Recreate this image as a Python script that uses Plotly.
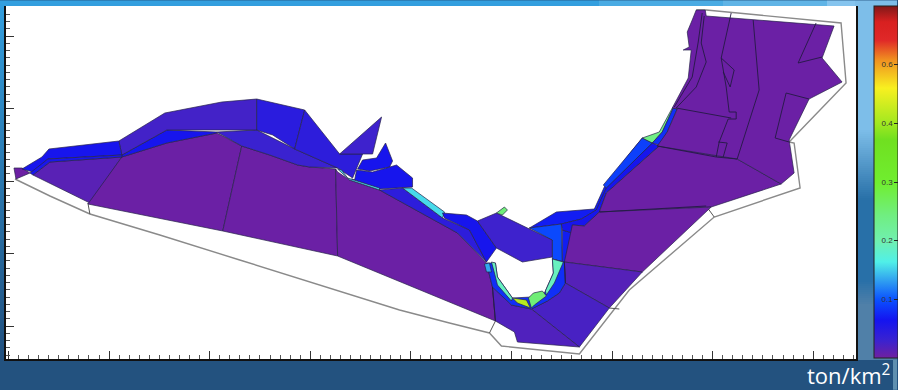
import numpy as np
import plotly.graph_objects as go
from plotly.colors import sample_colorscale

W, H = 898, 390
L, R, T, B = 6, 857, 6, 359

# colour bar: evenly spaced labels as printed in the source picture
bar_tickvals = [1, 2, 3, 4, 5]
bar_ticktext = ["0.1", "0.2", "0.3", "0.4", "0.6"]
bar_max = 6
bar_scale = [
    [0.00, "#7020a0"], [0.05, "#3a22d0"], [0.108, "#1414f0"], [0.165, "#0a50ff"],
    [0.22, "#30a0f0"], [0.273, "#50f0e8"], [0.332, "#70f0b0"], [0.406, "#70ee80"],
    [0.497, "#70ee30"], [0.62, "#70e020"], [0.665, "#a0e820"], [0.767, "#f8f020"],
    [0.847, "#f09020"], [0.903, "#e02828"], [0.955, "#d82020"], [1.00, "#801818"],
]

# cells: outlines
tip = [(14,168),(22,168),(30,173),(16,179)]
cell_a = [(33,175),(50,162),(122,157),(90,203)]
cell_b = [(122,157),(167,143),(217,133),(242,146),(223,231),(88,204)]
cell_c = [(242,146),(270,155),(298,165),(310,167),(336,169),(338,256),(223,231)]
cell_d = [(338,172),(350,180),(380,190),(458,233),(487,263),(493,287),(496,321),(338,256),(336,169)]
cell_e = [(217,132),(257,130),(295,149),(338,168),(310,167),(298,165),(270,155),(242,146)]
strip_f = [(122,155),(167,130),(217,132),(217,133),(167,143),(122,157)]
dome_g = [(119,141),(165,113),(222,102),(257,99),(257,130),(167,130),(122,155)]
dome_h = [(257,99),(305,110),(295,149),(273,135),(257,130)]
cell_i = [(305,110),(340,154),(363,154),(353,178),(338,168),(295,149)]
spike_j = [(340,154),(382,117),(373,154)]
strip_k = [(22,169),(42,157),(49,149),(119,141),(122,155),(48,159),(33,172)]
strip_l = [(30,173),(48,159),(122,155),(122,157),(50,162),(33,175)]
bit_m = [(358,169),(363,160),(377,158),(386,143),(393,161),(390,167),(370,171)]
bit_n = [(355,180),(357,170),(373,172),(397,165),(413,178),(413,187),(380,189),(352,179)]
cyan_o = [(338,169),(342,170),(348,178),(380,188),(380,190),(350,180)]
cell_p = [(380,190),(403,188),(443,218),(470,230),(487,262),(458,233)]
cyan_q = [(403,188),(412,188),(445,212),(443,218)]
blue_r = [(443,213),(467,215),(478,221),(497,248),(487,262),(470,230),(445,218)]
cell_s = [(478,221),(497,213),(528,228),(553,240),(553,257),(523,262),(497,248)]
green_t = [(497,213),(505,207),(508,210),(503,215)]
band_u = [(530,228),(557,212),(595,209),(605,187),(630,154),(643,138),(653,143),(607,188),(597,210),(582,219),(562,224)]
wedge_v = [(530,228),(562,224),(563,262),(553,259),(553,240)]
wedge_w = [(563,230),(573,233),(568,262),(563,262)]
band_x = [(562,224),(582,219),(597,210),(607,188),(653,143),(660,146),(607,193),(600,212),(585,226),(573,225),(573,233),(563,230)]
band_y = [(604,185),(643,138),(653,143),(607,188)]
cell_z = [(607,193),(660,146),(738,159),(782,184),(712,207),(600,212)]
cell_w1 = [(573,225),(585,226),(600,212),(712,207),(643,272),(565,262)]
cell_x1 = [(565,262),(643,272),(610,308),(566,283)]
cell_y1 = [(566,283),(610,308),(580,347),(532,309),(548,301),(560,293)]
cell_z1 = [(493,287),(512,305),(532,309),(580,347),(518,342),(515,332),(496,321)]
ring = [(487,263),(493,287),(512,305),(532,309),(548,301),(560,293),(566,283),(565,262),(553,259),
        (554,273),(545,293),(532,297),(513,298),(498,277),(496,263)]
aqua_r = [(553,259),(564,262),(555,283),(547,295),(546,291),(554,273)]
green_b = [(529,298),(534,293),(543,291),(547,296),(535,305),(532,308)]
yellow_b = [(513,298),(527,300),(531,308),(518,303)]
aqua_l = [(492,262),(496,263),(498,277),(513,298),(512,301),(498,285),(495,273)]
teal_s = [(485,264),(490,263),(492,272),(487,272)]
green_u = [(643,138),(660,132),(673,108),(674,108),(663,132),(653,143)]
blue_u = [(674,108),(678,109),(668,132),(660,145),(653,143),(663,132)]
ne_main = [(673,108),(689,78),(692,50),(684,50),(690,47),(688,32),(693,20),(697,10),(706,10),(707,16),
           (835,26),(823,58),(843,82),(810,99),(790,140),(795,173),(782,184),(738,159),(658,146),(668,132),(678,109)]

# value on the bar for each cell
cells = [
    (0.02, tip), (0.13, cell_a), (0.03, cell_b), (0.03, cell_c), (0.03, cell_d), (0.30, cell_e),
    (0.62, strip_f), (0.25, dome_g), (0.45, dome_h), (0.42, cell_i), (0.28, spike_j),
    (0.62, strip_k), (0.60, strip_l), (0.62, bit_m), (0.62, bit_n), (1.55, cyan_o),
    (0.42, cell_p), (1.55, cyan_q), (0.62, blue_r), (0.28, cell_s), (2.50, green_t),
    (0.70, band_u), (0.95, wedge_v), (0.70, wedge_w), (0.62, band_x), (0.90, band_y),
    (0.03, cell_z), (0.03, cell_w1), (0.15, cell_x1), (0.22, cell_y1), (0.18, cell_z1),
    (0.80, ring), (1.90, aqua_r), (2.50, green_b), (4.15, yellow_b), (1.90, aqua_l),
    (1.35, teal_s), (2.40, green_u), (0.80, blue_u), (0.03, ne_main),
]

# grey outer boundary
boundary = [(15,179),(50,196),(90,214),(160,235),(240,260),(295,277),(360,297),(400,310),(450,323),
            (490,333),(502,346),(580,354),(630,290),(715,217),(801,188),(795,143),(790,142),(847,83),
            (842,23),(707,10),(697,10)]
connectors = [[(88,203),(90,214)], [(496,321),(490,333)], [(610,308),(620,309)], [(707,206),(715,217)]]

# interior divider lines
dividers = [
    [(732,13),(722,58),(727,87),(730,112),(737,112),(737,119),(729,119),(720,142),(717,157)],
    [(677,108),(732,118)],
    [(754,20),(760,90),(738,159)],
    [(817,23),(799,63),(823,57)],
    [(810,99),(787,93),(776,138),(790,142)],
    [(722,58),(735,70),(731,87),(724,72)],
    [(719,142),(728,143),(724,157)],
    [(677,108),(697,87),(707,62),(702,43),(705,16)],
    [(675,107),(693,77),(699,42),(703,13)],
    [(658,146),(717,157),(738,159)],
    [(600,212),(707,206)],
    [(493,287),(496,321)],
    [(566,283),(565,262)],
]


def background():
    step = 2
    nx, ny = W // step, H // step
    xs = (np.arange(nx) + 0.5) * step
    ys = (np.arange(ny) + 0.5) * step
    X, Y = np.meshgrid(xs, ys)
    img = np.zeros((ny, nx, 3))
    t = np.clip(Y / 358, 0, 1)[..., None]
    img[:] = (1 - t) * np.array([52, 160, 224]) + t * np.array([33, 80, 127])
    # lighter band at the top right
    img[(Y < T) & (X > 600)] = (74, 171, 227)
    img[(Y < T) & (X > 723)] = (96, 180, 230)
    img[(Y < T) & (X > 827)] = (133, 196, 238)
    # right hand strip
    strip = X >= R
    u = np.clip((Y - 130) / 70, 0, 1)[..., None]
    col = (1 - u) * np.array([125, 190, 233]) + u * np.array([40, 112, 168])
    v = np.clip((Y - 280) / 25, 0, 1)[..., None]
    col = (1 - v) * col + v * np.array([80, 128, 168])
    img[strip] = col[strip]
    img[(Y >= T) & (Y < 130) & strip] = (125, 190, 233)
    img[Y > B] = (35, 82, 127)
    img[(Y > B) & (X > 893)] = (96, 144, 176)
    return img.astype(np.uint8)


fig = go.Figure()
fig.add_trace(go.Image(z=background().tolist(), x0=1, y0=1, dx=2, dy=2, hoverinfo="skip"))
# colour bar carrier, outside the visible range
fig.add_trace(go.Heatmap(
    z=[[0, bar_max]], x=[-50, -40], y=[-50], zmin=0, zmax=bar_max, colorscale=bar_scale,
    hoverinfo="skip",
    colorbar=dict(
        x=874 / W, xanchor="left", xpad=0, ypad=0, y=(H - 358) / H, yanchor="bottom",
        len=352 / H, lenmode="fraction", thickness=24, thicknessmode="pixels",
        outlinecolor="#222", outlinewidth=1,
        tickmode="array", tickvals=bar_tickvals, ticktext=bar_ticktext,
        ticks="inside", ticklen=4, tickcolor="#222", ticklabelposition="inside",
        tickfont=dict(size=8, color="#333", family="Liberation Sans"),
    ),
))
fig.add_trace(go.Scatter(
    x=[L, R, R, L, L], y=[T, T, B, B, T], xaxis="x2", yaxis="y2", mode="none",
    fill="toself", fillcolor="white", hoverinfo="skip", showlegend=False))


def add_line(pts, color, width):
    fig.add_trace(go.Scatter(
        x=[p[0] for p in pts], y=[p[1] for p in pts], xaxis="x2", yaxis="y2", mode="lines",
        line=dict(color=color, width=width), hoverinfo="skip", showlegend=False))


add_line(boundary, "#8a8a8a", 1.4)
for seg in connectors:
    add_line(seg, "#555", 1)

for value, pts in cells:
    color = sample_colorscale(bar_scale, [value / bar_max])[0]
    xs = [p[0] for p in pts] + [pts[0][0]]
    ys = [p[1] for p in pts] + [pts[0][1]]
    fig.add_trace(go.Scatter(
        x=xs, y=ys, xaxis="x2", yaxis="y2", mode="lines", fill="toself", fillcolor=color,
        line=dict(color="#26224a", width=0.7), hoverinfo="skip", showlegend=False))

for seg in dividers:
    add_line(seg, "#241a44", 0.9)

fig.update_layout(
    width=W, height=H, margin=dict(l=0, r=0, t=0, b=0), showlegend=False,
    paper_bgcolor="#23527f", plot_bgcolor="rgba(0,0,0,0)",
    xaxis=dict(domain=[0, 1], range=[0, W], visible=False),
    yaxis=dict(domain=[0, 1], range=[H, 0], visible=False),
    xaxis2=dict(domain=[L / W, R / W], range=[L, R], anchor="y2", showgrid=False, zeroline=False,
                showline=True, linecolor="#111", linewidth=1.5, showticklabels=False,
                ticks="inside", ticklen=8, tickcolor="#333", tick0=8.5, dtick=100.7,
                minor=dict(ticks="inside", ticklen=4, tickcolor="#555", tick0=8.5, dtick=10.07)),
    yaxis2=dict(domain=[(H - B) / H, (H - T) / H], range=[B, T], anchor="x2", showgrid=False,
                zeroline=False, showline=True, mirror=True, linecolor="#111", linewidth=1.5,
                showticklabels=False, ticks="inside", ticklen=8, tickcolor="#333",
                tick0=36, dtick=72.5,
                minor=dict(ticks="inside", ticklen=4, tickcolor="#555", tick0=36, dtick=7.25)),
    annotations=[dict(text="ton/km<sup>2</sup>", xref="x", yref="y", x=893, y=375, xanchor="right",
                      yanchor="middle", showarrow=False,
                      font=dict(size=22, color="white", family="Open Sans"))],
)
fig.write_html("out.html", config={"displayModeBar": False},
               post_script="document.body.style.margin='0';document.documentElement.style.overflow='hidden';")
